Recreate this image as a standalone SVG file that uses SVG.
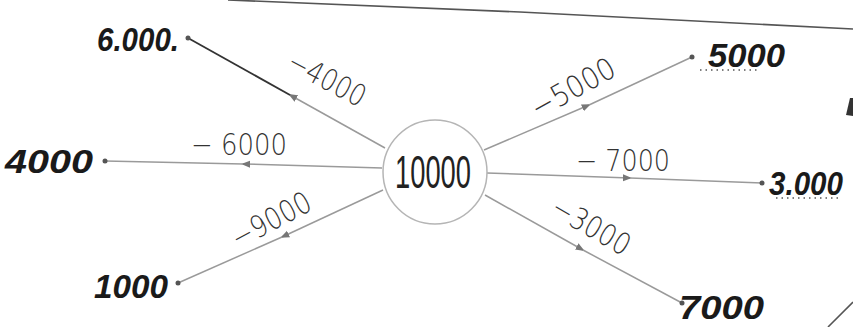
<svg xmlns="http://www.w3.org/2000/svg" width="853" height="327" viewBox="0 0 853 327">
<style>
.edge{fill:none;stroke:#9a9a9a;stroke-width:1.5}
.dark{fill:none;stroke:#333;stroke-width:1.8}
.dot{fill:#555}
.nlab{font-family:"Liberation Sans",Arial,sans-serif;font-style:italic;font-weight:bold;font-size:34px;fill:#1a1a1a}
.elab{font-family:"DejaVu Sans","Liberation Sans",sans-serif;font-weight:200;font-size:30px;fill:#333}
.uline{stroke:#555;stroke-width:1.5;stroke-dasharray:1.5 4}
.scan{fill:none;stroke:#555;stroke-width:1.6}
</style>
<defs>
<marker id="arr" viewBox="0 0 10 10" refX="8" refY="5" markerWidth="9" markerHeight="9" markerUnits="userSpaceOnUse" orient="auto">
<path d="M0,1 L10,5 L0,9 Z" fill="#777"/>
</marker>
</defs>
<rect width="853" height="327" fill="#fff"/>
<g id="scan-marks">
<path class="scan" d="M228,0 L520,12 L853,29"/>
<path class="scan" d="M828,327 L853,302"/>
<path d="M846,115 L850,98 L853,98 L853,116 Z" fill="#333"/>
</g>
<g id="connectors">
<path class="edge" d="M385,148 L290,95" marker-end="url(#arr)"/>
<path class="dark" d="M290,95 L188,38"/>
<path class="edge" d="M382,168 L243,164" marker-end="url(#arr)"/>
<path class="edge" d="M243,164 L105,161"/>
<path class="edge" d="M383,190 L282,237" marker-end="url(#arr)"/>
<path class="edge" d="M282,237 L178,283"/>
<path class="edge" d="M484,150 L589,105" marker-end="url(#arr)"/>
<path class="edge" d="M589,105 L692,57"/>
<path class="edge" d="M487,173 L630,178" marker-end="url(#arr)"/>
<path class="edge" d="M630,178 L762,183"/>
<path class="edge" d="M485,195 L583,250" marker-end="url(#arr)"/>
<path class="edge" d="M583,250 L682,303"/>
<text class="elab" transform="translate(322,88) rotate(28)" text-anchor="middle" textLength="84" lengthAdjust="spacingAndGlyphs">−4000</text>
<text class="elab" x="239" y="155" text-anchor="middle" textLength="96" lengthAdjust="spacingAndGlyphs">− 6000</text>
<text class="elab" transform="translate(276,229) rotate(-28)" text-anchor="middle" textLength="86" lengthAdjust="spacingAndGlyphs">−9000</text>
<text class="elab" transform="translate(578,97) rotate(-29)" text-anchor="middle" textLength="92" lengthAdjust="spacingAndGlyphs">−5000</text>
<text class="elab" x="623" y="171" text-anchor="middle" textLength="94" lengthAdjust="spacingAndGlyphs">− 7000</text>
<text class="elab" transform="translate(586,235) rotate(30)" text-anchor="middle" textLength="86" lengthAdjust="spacingAndGlyphs">−3000</text>
</g>
<g id="center">
<circle cx="435" cy="172" r="52" fill="#fff" stroke="#b5b5b5" stroke-width="1.5"/>
<text x="433" y="188" text-anchor="middle" font-family="'Liberation Sans',Arial,sans-serif" font-size="47" fill="#222" textLength="76" lengthAdjust="spacingAndGlyphs">10000</text>
</g>
<g id="n6000">
<circle class="dot" cx="188" cy="38" r="2.5"/>
<text class="nlab" x="97" y="51" textLength="82" lengthAdjust="spacingAndGlyphs">6.000.</text>
</g>
<g id="n4000">
<circle class="dot" cx="105" cy="161" r="2.5"/>
<text class="nlab" x="5" y="173" textLength="88" lengthAdjust="spacingAndGlyphs">4000</text>
</g>
<g id="n1000">
<circle class="dot" cx="178" cy="283" r="2.5"/>
<text class="nlab" x="94" y="298" textLength="74" lengthAdjust="spacingAndGlyphs">1000</text>
</g>
<g id="n5000">
<circle class="dot" cx="692" cy="57" r="2.5"/>
<text class="nlab" x="708" y="67" textLength="77" lengthAdjust="spacingAndGlyphs">5000</text>
<line class="uline" x1="700" y1="70" x2="760" y2="70"/>
</g>
<g id="n3000">
<circle class="dot" cx="762" cy="183" r="2.5"/>
<text class="nlab" x="769" y="195" textLength="74" lengthAdjust="spacingAndGlyphs">3.000</text>
<line class="uline" x1="776" y1="198" x2="840" y2="198"/>
</g>
<g id="n7000">
<circle class="dot" cx="682" cy="303" r="2.5"/>
<text class="nlab" x="679" y="319" textLength="85" lengthAdjust="spacingAndGlyphs">7000</text>
</g>
</svg>
